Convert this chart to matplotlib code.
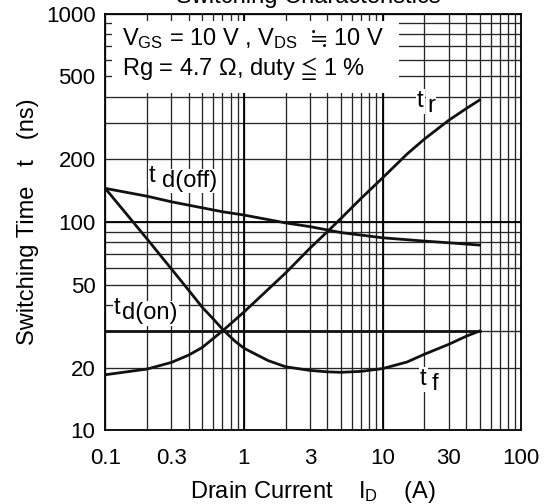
import matplotlib
matplotlib.use("Agg")
import matplotlib.pyplot as plt
from matplotlib.ticker import FixedLocator, NullFormatter, LogLocator
from matplotlib.patches import Rectangle

plt.rcParams['font.family'] = ['Liberation Sans', 'DejaVu Sans']
plt.rcParams['mathtext.fontset'] = 'custom'
plt.rcParams['mathtext.rm'] = 'Liberation Sans'
plt.rcParams['mathtext.it'] = 'Liberation Sans:italic'
plt.rcParams['mathtext.bf'] = 'Liberation Sans:bold'
plt.rcParams['mathtext.fallback'] = 'stix'

# data (ID in A, times in ns)
id_tr = [0.1, 0.2, 0.3, 0.4, 0.5, 0.7, 1, 2, 3, 4, 5, 7, 10, 15, 20, 30, 40, 50]
t_r = [18.5, 19.7, 21.2, 23.0, 25.0, 30, 37, 57, 75, 90, 104, 130, 163, 212, 250, 308, 350, 385]

id_off = [0.1, 0.2, 0.3, 0.5, 0.7, 1, 2, 3, 5, 10, 20, 30, 50]
t_doff = [145, 133, 125, 117, 112, 108, 99, 95, 89, 84, 81, 79.5, 77.5]

id_f = [0.1, 0.2, 0.3, 0.4, 0.5, 0.6, 0.7, 0.85, 1, 1.5, 2, 3, 4, 5, 7, 10, 15, 20, 30, 40, 50]
t_f = [145, 83, 59.5, 47, 39, 34.3, 30.6, 27.0, 24.8, 21.6, 20.2, 19.4, 19.1, 19.0, 19.2,
       19.8, 21.3, 23.2, 25.9, 28.3, 30]

id_on = [0.1, 50]
t_don = [30, 30]

xticks = [0.1, 0.3, 1, 3, 10, 30, 100]
xlabels = ['0.1', '0.3', '1', '3', '10', '30', '100']
yticks = [10, 20, 50, 100, 200, 500, 1000]
ylabels = ['10', '20', '50', '100', '200', '500', '1000']

fig = plt.figure(figsize=(5.57, 5.04), dpi=100)
ax = fig.add_axes([0.189, 0.146, 0.747, 0.827])
ax.set_xscale('log')
ax.set_yscale('log')
ax.set_xlim(0.1, 100)
ax.set_ylim(10, 1000)

# grid: thin lines on every 1..9, heavier on decades
ax.xaxis.set_major_locator(FixedLocator(xticks))
ax.yaxis.set_major_locator(FixedLocator(yticks))
ax.xaxis.set_minor_locator(LogLocator(base=10, subs=range(2, 10)))
ax.yaxis.set_minor_locator(LogLocator(base=10, subs=range(2, 10)))
ax.xaxis.set_minor_formatter(NullFormatter())
ax.yaxis.set_minor_formatter(NullFormatter())
ax.set_xticklabels(xlabels)
ax.set_yticklabels(ylabels)
ax.grid(which='both', color='#262626', linewidth=0.95)
for d in [1, 10]:
    ax.axvline(d, color='black', linewidth=1.3, zorder=1)
ax.axhline(100, color='black', linewidth=1.3, zorder=1)
ax.set_axisbelow(True)
ax.tick_params(which='both', length=0, labelsize=16, colors='black')
ax.tick_params(axis='x', pad=13)
ax.tick_params(axis='y', pad=7)
for s in ax.spines.values():
    s.set_linewidth(1.3)

# white panel for the conditions text
ax.add_patch(Rectangle((0.0156, 0.809), 0.690, 0.174, transform=ax.transAxes,
                       facecolor='white', edgecolor='none', zorder=2))
ax.text(0.04, 0.9247, r'V$_{\mathregular{GS}}$ = 10 V , V$_{\mathregular{DS}}$  $≒$ 10 V',
        transform=ax.transAxes, fontsize=17, zorder=3, va='baseline')
ax.text(0.04, 0.853, r'Rg = 4.7 $\Omega$, duty $≦$ 1 %',
        transform=ax.transAxes, fontsize=17, zorder=3, va='baseline')

lw = 2.0
ax.plot(id_tr, t_r, color='#111111', linewidth=lw, zorder=4)
ax.plot(id_off, t_doff, color='#111111', linewidth=lw, zorder=4)
ax.plot(id_f, t_f, color='#111111', linewidth=lw, zorder=4)
ax.plot(id_on, t_don, color='#111111', linewidth=lw, zorder=4)

# curve labels: "t" plus a lowered suffix, on white
box = dict(facecolor='white', edgecolor='none', pad=1)
def curve_label(x, y, sub, dx):
    ax.text(x, y, 't', fontsize=17, zorder=3, va='baseline', bbox=box)
    ax.annotate(sub, (x, y), xytext=(dx, -3.8), textcoords='offset points',
                fontsize=17, zorder=3, va='baseline', bbox=box)

curve_label(0.207, 156, 'd(off)', 9.4)
curve_label(0.1155, 36.2, 'd(on)', 5.8)
curve_label(17.7, 356, 'r', 7.2)
curve_label(18.6, 16.5, 'f', 8.6)

fig.text(0.553, 1 - 3.5 / 504, 'Switching Characteristics', ha='center',
         va='baseline', fontsize=17)
ax.set_xlabel(r'Drain Current    I$_{\mathregular{D}}$    (A)', fontsize=17, labelpad=7)
ax.set_ylabel('Switching Time   t   (ns)', fontsize=17, labelpad=5)

fig.savefig('out.png', dpi=100)
